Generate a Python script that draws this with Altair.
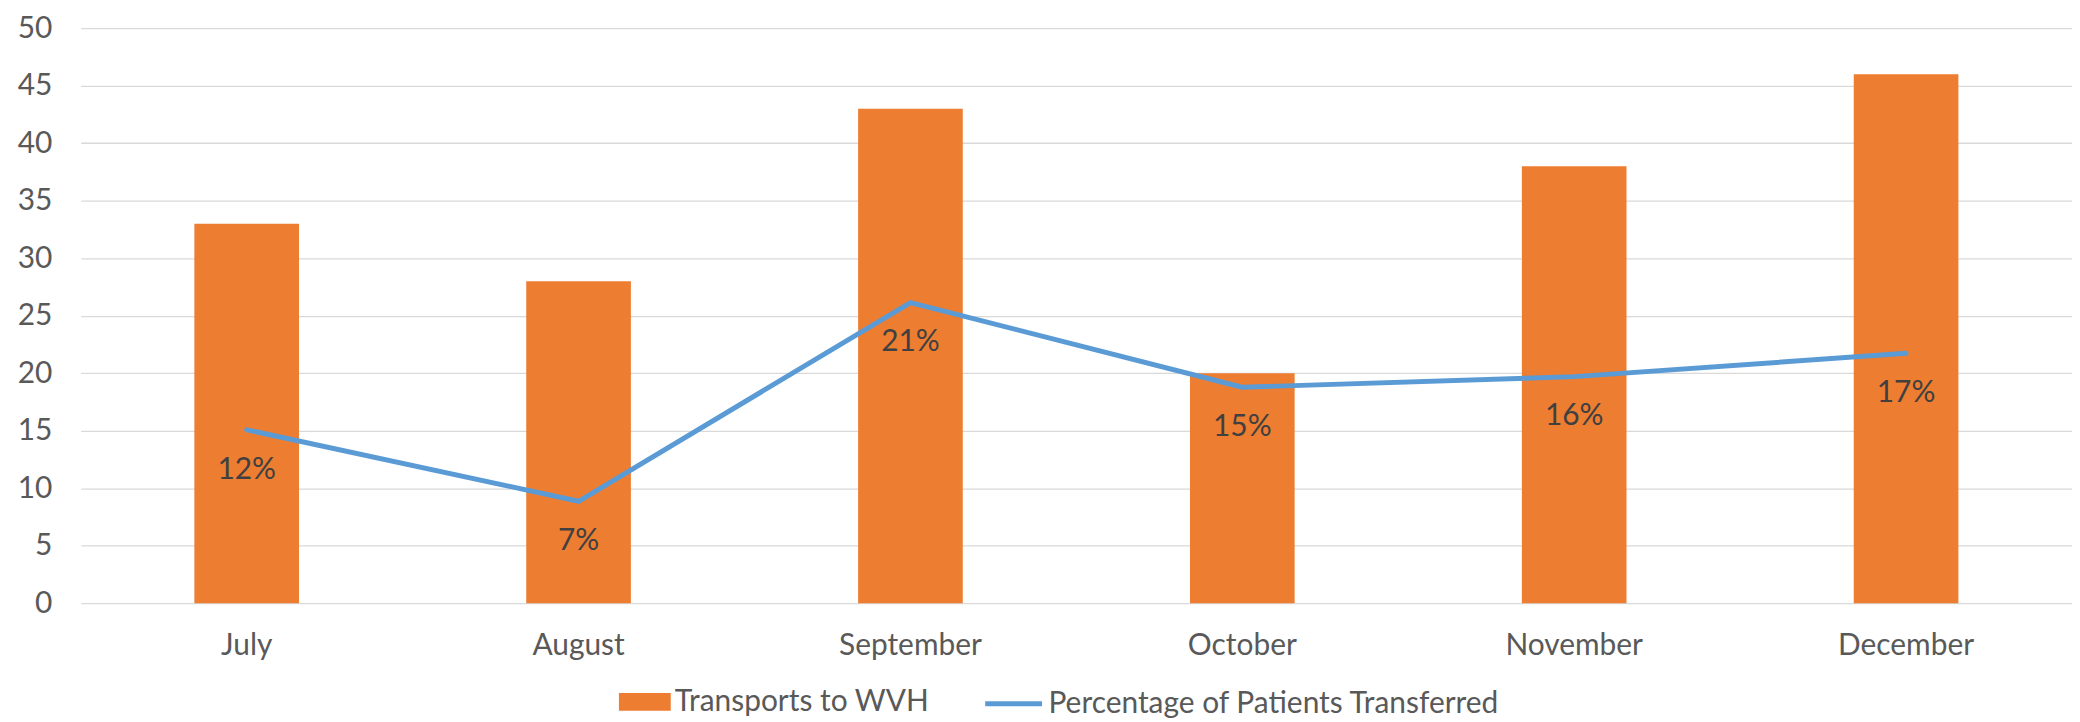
import altair as alt
import pandas as pd

months = ["July", "August", "September", "October", "November", "December"]
transports = [33, 28, 43, 20, 38, 46]
pct_transferred = [0.1206, 0.0709, 0.2091, 0.1502, 0.1576, 0.1738]
y_ticks = [0, 5, 10, 15, 20, 25, 30, 35, 40, 45, 50]

BAR_NAME = "Transports to WVH"
LINE_NAME = "Percentage of Patients Transferred"

df = pd.DataFrame({
    "month": months,
    "transports": transports,
    "pct": pct_transferred,
    "bar_series": [BAR_NAME] * len(months),
    "line_series": [LINE_NAME] * len(months),
})

ORANGE = "#ED7D31"
BLUE = "#5B9BD5"
GRID = "#D9D9D9"
AXIS_TXT = "#595959"
LABEL_TXT = "#404040"
FS = 30

x_enc = alt.X(
    "month:N",
    sort=months,
    scale=alt.Scale(paddingInner=0, paddingOuter=0),
    axis=alt.Axis(
        title=None, labelAngle=0, ticks=False, domain=False, grid=False,
        labelFontSize=FS, labelColor=AXIS_TXT, labelPadding=51,
        labelBaseline="alphabetic",
    ),
)

base = alt.Chart(df)

bars = base.mark_bar(size=105).encode(
    x=x_enc,
    y=alt.Y(
        "transports:Q",
        scale=alt.Scale(domain=[0, 50], nice=False),
        axis=alt.Axis(
            title=None, values=y_ticks, ticks=False, domain=False,
            grid=True, gridColor=GRID, gridWidth=1.3,
            labelFontSize=FS, labelColor=AXIS_TXT, labelPadding=29,
        ),
    ),
    fill=alt.Fill(
        "bar_series:N",
        scale=alt.Scale(domain=[BAR_NAME], range=[ORANGE]),
        legend=alt.Legend(
            title=None, orient="none", legendX=540, legendY=650,
            symbolType="M-1,-0.346H1V0.346H-1Z", symbolSize=2704,
            symbolStrokeWidth=0, labelFontSize=FS, labelColor=AXIS_TXT,
            labelOffset=4, labelLimit=0, padding=0,
        ),
    ),
)

y_pct = alt.Y("pct:Q", scale=alt.Scale(domain=[0, 0.4], nice=False), axis=None)

line = base.mark_line(strokeWidth=5, strokeCap="round", strokeJoin="round").encode(
    x=x_enc,
    y=y_pct,
    stroke=alt.Stroke(
        "line_series:N",
        scale=alt.Scale(domain=[LINE_NAME], range=[BLUE]),
        legend=alt.Legend(
            title=None, orient="none", legendX=905, legendY=647,
            symbolType="stroke", symbolSize=3249, symbolStrokeWidth=5,
            labelFontSize=FS, labelColor=AXIS_TXT, labelOffset=4,
            labelLimit=0, padding=0,
        ),
    ),
)

labels = base.mark_text(
    dy=49, baseline="alphabetic", fontSize=FS, color=LABEL_TXT
).encode(
    x=x_enc,
    y=y_pct,
    text=alt.Text("pct:Q", format=".0%"),
)

border = alt.Chart(df).mark_rule(color=GRID, strokeWidth=1.2).encode(
    x=alt.value(-79), y=alt.value(-27), y2=alt.value(695)
)

chart = alt.layer(
    border, bars, alt.layer(line, labels)
).resolve_scale(
    y="independent"
).properties(
    width=1998,
    height=577,
    padding={"left": 73, "top": 19, "right": 0, "bottom": 118},
    autosize=alt.AutoSizeParams(type="none"),
).configure(
    font="Lato",
).configure_view(
    stroke=None,
)

chart.save("out.html", embed_options={"renderer": "svg", "actions": False})
